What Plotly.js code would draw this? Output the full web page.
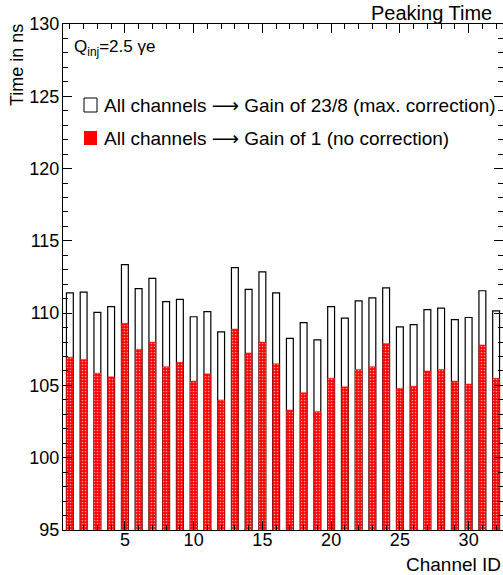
<!DOCTYPE html>
<html>
<head>
<meta charset="utf-8">
<script src="https://cdn.plot.ly/plotly-3.0.1.min.js"></script>
<style>html,body{margin:0;padding:0;background:#fff;}#chart{width:503px;height:575px;}</style>
</head>
<body>
<div id="chart"></div>
<script>
const channels = [1,2,3,4,5,6,7,8,9,10,11,12,13,14,15,16,17,18,19,20,21,22,23,24,25,26,27,28,29,30,31,32];
const gainMax = [111.4,111.45,110.05,110.45,113.35,111.7,112.4,110.8,110.95,109.75,110.1,108.7,113.15,111.65,112.85,111.4,108.25,109.35,108.15,110.45,109.65,110.85,111.05,111.75,109.05,109.2,110.25,110.35,109.55,109.7,111.55,110.15];
const gainOne = [106.95,106.8,105.85,105.6,109.3,107.5,108.0,106.3,106.6,105.3,105.8,104.0,108.9,107.25,108.0,106.5,103.3,104.5,103.2,105.5,104.9,106.1,106.3,107.9,104.8,104.95,106.0,106.1,105.3,105.1,107.8,105.5];
const ARROW = '<span style="font-family:DejaVu Sans">\u27F6</span>';
const legendLabels = ["All channels " + ARROW + " Gain of 23/8 (max. correction)", "All channels " + ARROW + " Gain of 1 (no correction)"];
const xTitle = "Channel ID";
const yTitle = "Time in ns";
const plotTitle = "Peaking Time";
const qLabel = "Q<sub>inj</sub>=2.5 \u03b3e";

const FONT = "Liberation Sans, Arial, Helvetica, sans-serif";

const traces = [
  {type:'bar', x:channels, y:gainMax, width:0.5, name:"Gain of 23/8",
   marker:{color:'#ffffff', line:{color:'#000000', width:1.2}}, showlegend:false, hoverinfo:'skip'},
  {type:'bar', x:channels, y:gainOne, width:0.5, name:"Gain of 1",
   marker:{color:'#ff0000', line:{color:'#ff1010', width:0.5},
           pattern:{shape:'.', fgcolor:'#ff9a9a', bgcolor:'#ff0000', size:3, solidity:0.25}},
   showlegend:false, hoverinfo:'skip'}
];

const W = 503, H = 575, L = 63, R = 0, T = 24, B = 45;
const pw = W - L - R, ph = H - T - B;
const px = v => (v - L) / pw;
const py = v => (H - B - v) / ph;

const layout = {
  width: W, height: H,
  margin: {l: L, r: R, t: T, b: B, pad: 0},
  paper_bgcolor: '#ffffff', plot_bgcolor: '#ffffff',
  barmode: 'overlay',
  font: {family: FONT, color: '#000', size: 18},
  xaxis: {
    range: [0.5, 32.5], tick0: 0, dtick: 5, ticks: 'inside', ticklen: 9, tickwidth: 1, tickcolor: '#000',
    minor: {dtick: 1, ticks: 'inside', ticklen: 5, tickcolor: '#000'},
    showline: true, linecolor: '#000', linewidth: 1, mirror: 'allticks',
    showgrid: false, zeroline: false, tickfont: {family: FONT, size: 18},
    ticklabelstandoff: -7, layer: 'above traces'
  },
  yaxis: {
    range: [95, 130], tick0: 0, dtick: 5, ticks: 'inside', ticklen: 9, tickwidth: 1, tickcolor: '#000',
    minor: {dtick: 1, ticks: 'inside', ticklen: 5, tickcolor: '#000'},
    showline: true, linecolor: '#000', linewidth: 1, mirror: 'allticks',
    showgrid: false, zeroline: false, tickfont: {family: FONT, size: 18},
    ticklabelstandoff: -1, layer: 'above traces'
  },
  shapes: [
    {type:'rect', xref:'paper', yref:'paper', x0:px(84), x1:px(97), y0:py(112), y1:py(98),
     line:{color:'#000', width:1}, fillcolor:'#ffffff'},
    {type:'rect', xref:'paper', yref:'paper', x0:px(84), x1:px(97), y0:py(145), y1:py(131),
     line:{color:'#ff0000', width:0}, fillcolor:'#ff0000'}
  ],
  annotations: [
    {text: plotTitle, xref:'paper', yref:'paper', x:px(494), y:py(13), xanchor:'right', yanchor:'middle',
     showarrow:false, font:{family:FONT, size:20}},
    {text: xTitle, xref:'paper', yref:'paper', x:px(503), y:py(564), xanchor:'right', yanchor:'middle',
     showarrow:false, font:{family:FONT, size:19}},
    {text: yTitle, xref:'paper', yref:'paper', x:px(17), y:py(22), xanchor:'center', yanchor:'top',
     textangle:-90, showarrow:false, font:{family:FONT, size:18}},
    {text: qLabel, xref:'paper', yref:'paper', x:px(72), y:py(48), xanchor:'left', yanchor:'middle',
     showarrow:false, font:{family:FONT, size:17}},
    {text: legendLabels[0], xref:'paper', yref:'paper', x:px(102), y:py(105), xanchor:'left', yanchor:'middle',
     showarrow:false, font:{family:FONT, size:19}},
    {text: legendLabels[1], xref:'paper', yref:'paper', x:px(102), y:py(138), xanchor:'left', yanchor:'middle',
     showarrow:false, font:{family:FONT, size:19}}
  ]
};

Plotly.newPlot('chart', traces, layout, {staticPlot: true, displayModeBar: false});
</script>
</body>
</html>
